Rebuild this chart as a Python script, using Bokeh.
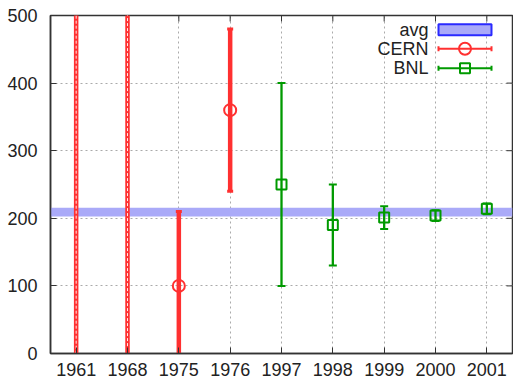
from bokeh.plotting import figure
from bokeh.models import Range1d, BoxAnnotation, FixedTicker, LinearScale
from bokeh.embed import file_html
from bokeh.resources import INLINE
from bokeh.core.properties import value

# --- data -------------------------------------------------------------
years = ["1961", "1968", "1975", "1976", "1997", "1998", "1999", "2000", "2001"]

cern_years = ["1961", "1968", "1975", "1976"]
cern_val = [900, 700, 100, 360]
cern_err = [1100, 800, 110, 120]

bnl_years = ["1997", "1998", "1999", "2000", "2001"]
bnl_val = [250, 190, 201, 204, 214]
bnl_err = [150, 60, 17, 8, 8]

avg_val = 209
avg_err = 6.5

y_ticks = [0, 100, 200, 300, 400, 500]
legend_labels = ["avg", "CERN", "BNL"]

# --- style ------------------------------------------------------------
RED = "#ff3030"
GREEN = "#009a00"
BAND = "#aaaaf8"
BLUE = "#2a2aff"
FONT = "Liberation Sans"
TXT = "#222222"
AX = "#333333"
FS = "18px"
TICK = 6          # inward tick length, px

Y_MAX = 500
FRAME_W, FRAME_H = 462, 338

# years are placed as evenly spaced slots along x
slot = {y: i for i, y in enumerate(years)}
x_ticks = [slot[y] for y in years]
cern_x = [slot[y] for y in cern_years]
bnl_x = [slot[y] for y in bnl_years]

p = figure(width=513, height=380,
           x_range=Range1d(-0.5, len(years) - 0.5),
           y_range=Range1d(0, Y_MAX),
           output_backend="svg", toolbar_location=None,
           min_border_left=50, min_border_right=1,
           min_border_top=15, min_border_bottom=27)
p.background_fill_color = "white"
p.border_fill_color = "white"
p.outline_line_color = AX
p.outline_line_width = 1.5

# frame-pixel coordinate systems (origin top-left of the frame)
p.extra_x_ranges = {"px": Range1d(0, FRAME_W)}
p.extra_x_scales = {"px": LinearScale()}
p.extra_y_ranges = {"py": Range1d(FRAME_H, 0)}
p.extra_y_scales = {"py": LinearScale()}

# grid
for g in (p.xgrid, p.ygrid):
    g.grid_line_color = "#aaaaaa"
    g.grid_line_dash = "2 3"
    g.grid_line_width = 1
p.xgrid.ticker = FixedTicker(ticks=x_ticks)
p.ygrid.ticker = FixedTicker(ticks=y_ticks)

# axes (ticks pointing inward)
def style_axis(ax, standoff):
    ax.axis_line_color = AX
    ax.axis_line_width = 1.5
    ax.major_tick_line_color = AX
    ax.major_tick_line_width = 1
    ax.major_tick_in = TICK
    ax.major_tick_out = 0
    ax.minor_tick_line_color = None
    ax.major_label_text_font = FONT
    ax.major_label_text_color = TXT
    ax.major_label_text_font_size = FS
    ax.major_label_standoff = standoff

p.xaxis.ticker = FixedTicker(ticks=x_ticks)
p.xaxis.major_label_overrides = {slot[y]: y for y in years}
p.yaxis.ticker = FixedTicker(ticks=y_ticks)
style_axis(p.xaxis[0], 9)
style_axis(p.yaxis[0], 13)

# mirrored ticks on the top and right edges
p.segment(x0=x_ticks, y0=[0] * len(x_ticks), x1=x_ticks,
          y1=[TICK] * len(x_ticks), line_color=AX, line_width=1,
          y_range_name="py")
p.segment(x0=[FRAME_W] * len(y_ticks), y0=y_ticks,
          x1=[FRAME_W - TICK] * len(y_ticks), y1=y_ticks,
          line_color=AX, line_width=1, x_range_name="px")

# average band
band = BoxAnnotation(bottom=avg_val - avg_err, top=avg_val + avg_err,
                     fill_color=BAND, fill_alpha=1.0, line_color=None,
                     level="underlay")
p.add_layout(band)

# CERN points with error bars
c_lo = [v - e for v, e in zip(cern_val, cern_err)]
c_hi = [v + e for v, e in zip(cern_val, cern_err)]
p.segment(x0=cern_x, y0=c_lo, x1=cern_x, y1=c_hi,
          line_color=RED, line_width=4.5)
# bars whose central value lies beyond the axis get a hollow core
off_x = [x for x, v in zip(cern_x, cern_val) if v > Y_MAX]
off_lo = [l for l, v in zip(c_lo, cern_val) if v > Y_MAX]
off_hi = [h for h, v in zip(c_hi, cern_val) if v > Y_MAX]
p.segment(x0=off_x, y0=off_lo, x1=off_x, y1=off_hi,
          line_color="white", line_width=1, line_dash="3 2", line_alpha=0.9)
p.scatter(x=cern_x, y=c_hi, marker="dash", size=6, line_width=3,
          line_color=RED)
p.scatter(x=cern_x, y=c_lo, marker="dash", size=6, line_width=3,
          line_color=RED)
p.scatter(x=cern_x, y=cern_val, marker="circle", size=12,
          line_color=RED, line_width=2, fill_color=None)

# BNL points with error bars
b_lo = [v - e for v, e in zip(bnl_val, bnl_err)]
b_hi = [v + e for v, e in zip(bnl_val, bnl_err)]
p.segment(x0=bnl_x, y0=b_lo, x1=bnl_x, y1=b_hi,
          line_color=GREEN, line_width=2.3)
p.scatter(x=bnl_x, y=b_hi, marker="dash", size=8, line_width=2,
          line_color=GREEN)
p.scatter(x=bnl_x, y=b_lo, marker="dash", size=8, line_width=2,
          line_color=GREEN)
p.scatter(x=bnl_x, y=bnl_val, marker="square", size=10,
          line_color=GREEN, line_width=2, fill_color=None)

# --- key (frame-pixel coordinates) ------------------------------------
kw = dict(x_range_name="px", y_range_name="py")

row_y = [14.3, 33.3, 52.7]
text_x = 378
s0, s1, sc = 388, 441, 414.5

p.text(x=[text_x] * 3, y=row_y, text=legend_labels, text_align="right",
       text_baseline="middle", text_font=value(FONT), text_font_size=FS,
       text_color=TXT, **kw)

p.quad(left=[s0], right=[s1], top=[row_y[0] - 5.5], bottom=[row_y[0] + 5.5],
       fill_color=BAND, line_color=BLUE, line_width=2, **kw)

for y, col, mk, msize in ((row_y[1], RED, "circle", 12),
                          (row_y[2], GREEN, "square", 10)):
    p.segment(x0=[s0], y0=[y], x1=[s1], y1=[y], line_color=col,
              line_width=2, **kw)
    p.segment(x0=[s0, s1], y0=[y - 2.5, y - 2.5], x1=[s0, s1],
              y1=[y + 2.5, y + 2.5], line_color=col, line_width=2, **kw)
    p.scatter(x=[sc], y=[y], marker=mk, size=msize, line_color=col,
              line_width=2, fill_color=None, **kw)

open("out.html", "w").write(file_html(p, INLINE))
